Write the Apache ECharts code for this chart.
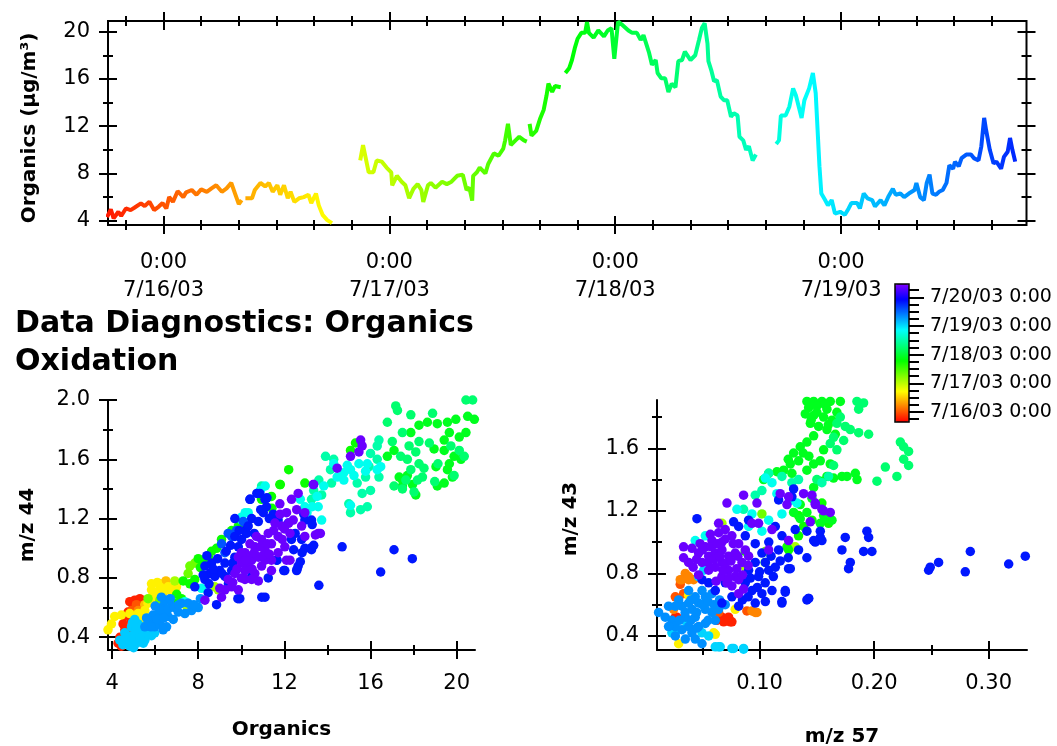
<!DOCTYPE html>
<html>
<head>
<meta charset="utf-8">
<script src="https://cdn.jsdelivr.net/npm/echarts@6/dist/echarts.min.js"></script>
<style>
  html, body { margin: 0; padding: 0; background: #fff; }
  #main { width: 1057px; height: 746px; }
</style>
</head>
<body>
<div id="main"></div>
<script>
// hours since 7/16/03 0:00 ; null = gap in the record
const tsHours = [
  -6.0, -5.6, -5.3, -4.8, -4.5, -4.0, -3.5, -3.1, -2.4, -2.0, -1.5, -1.0, -0.5, -0.1, 0.3, 0.6, 1.0, 1.5, 2.1, 2.4,
  3.0, 3.5, 4.0, 4.6, 5.1, 5.6, 6.2, 6.7, 7.2, 7.6, 8.0, 8.3, 8.5, 8.7, 9.4, 9.7, 10.3, 10.8, 11.2, 11.6,
  12.1, 12.4, 12.8, 13.2, 13.5, 13.9, 14.4, 14.9, 15.4, 15.7, 16.2, 16.5, 16.9, 17.4, 17.9, 19.0,
  20.9, 21.2, 21.8, 22.3, 22.65, 23.2, 23.7, 24.2, 24.3, 24.8, 25.3, 25.7, 26.1, 26.55, 27.0, 27.4, 27.6, 28.1,
  28.4, 28.9, 29.6, 30.1, 30.6, 31.2, 31.8, 32.2, 32.5, 32.8, 32.9, 33.3, 33.6, 34.2, 34.5, 35.1, 35.6, 36.1,
  36.3, 36.6, 36.9, 37.4, 37.8, 38.3, 38.6, 38.75,
  38.9, 39.1, 39.6, 40.0, 40.4, 40.7, 40.9, 41.3, 41.6, 42.2, 42.45,
  42.7, 43.1, 43.4, 43.7, 44.0, 44.4, 44.8, 45.0, 45.2, 45.7, 46.2, 46.8, 47.2, 47.6, 47.9, 48.3, 48.7, 49.4,
  49.8, 50.3, 50.7, 51.0, 51.6, 51.9, 52.3, 52.5, 52.9, 53.3, 53.65, 54.0, 54.4, 54.7, 55.1, 55.4, 56.0, 56.5,
  56.9, 57.2, 57.5, 57.8, 57.9, 58.2, 58.5, 58.8, 59.2, 59.55, 59.9, 60.3, 60.6, 61.0, 61.2, 61.6, 61.9, 62.2,
  62.6, 62.95, 64.0,
  65.1, 65.4, 65.6, 66.1, 66.5, 66.9, 67.2, 67.8, 68.1, 68.6, 69.0, 69.3, 69.7, 69.9, 70.3, 70.6, 71.0, 71.35,
  71.9, 72.4, 72.8, 73.1, 73.7, 74.0, 74.4, 74.8, 75.3, 75.6, 76.2, 76.6, 77.0, 77.5, 77.8, 78.3, 78.7, 79.2,
  79.8, 80.0, 80.4, 80.8, 81.1, 81.4, 81.7, 82.1, 82.4, 82.8, 83.2, 83.5, 83.9, 84.1, 84.5, 84.8, 85.3, 85.8,
  86.1, 86.6, 86.9, 87.2, 87.4, 87.8, 88.2, 88.5, 89.0, 89.3, 89.7, 89.95, 90.2, 90.5
];
const tsOrganics = [
  4.3, 4.96, 4.2, 4.76, 4.4, 5.04, 4.9, 5.1, 5.47, 5.24, 5.6, 4.9, 5.2, 5.5, 5.04, 6.0, 5.6, 6.5, 6.0, 6.4,
  6.6, 6.2, 6.65, 6.45, 6.74, 7.0, 6.45, 6.74, 7.2, 6.3, 5.4, 5.75, null, 5.9, 5.9, 6.6, 7.2, 6.9, 7.2, 6.45,
  7.0, 6.2, 7.0, 5.9, 6.45, 5.6, 5.9, 6.0, 6.2, 5.5, 6.3, 5.3, 4.5, 4.05, 3.8, null,
  9.1, 10.4, 8.1, 8.1, 9.1, 9.0, 8.5, 8.1, 7.0, 7.8, 7.3, 7.0, 5.9, 6.7, 7.1, 6.6, 5.6, 7.0,
  7.2, 6.8, 7.3, 7.1, 7.3, 7.8, 7.9, 6.6, 6.8, 5.7, 7.8, 8.1, 8.5, 8.0, 8.8, 9.7, 9.5, 10.1,
  10.8, 12.2, 10.4, 10.8, 11.1, 10.8, 10.7, null,
  12.2, 11.2, 11.6, 12.6, 13.4, 14.6, 15.6, 14.9, 15.4, 15.3, null,
  16.5, 16.9, 17.6, 18.6, 19.4, 19.9, 19.9, 20.8, 19.9, 19.5, 20.1, 19.6, 20.1, 20.3, 17.7, 20.85, 20.6, 20.1,
  19.9, 19.9, 19.3, 19.7, 18.2, 17.2, 17.6, 16.5, 16.05, 16.05, 14.9, 15.6, 15.3, 17.5, 17.6, 18.3, 17.6, 18.0,
  19.3, 20.3, 20.7, 19.0, 17.5, 16.75, 15.8, 15.9, 14.5, 14.2, 14.2, 12.8, 13.1, 12.9, 11.1, 10.8, 10.0, 10.3,
  9.1, 9.6, null,
  10.5, 10.8, 12.9, 12.9, 13.65, 15.2, 14.6, 12.7, 14.2, 15.2, 16.5, 14.8, 8.6, 6.3, 5.75, 5.3, 5.75, 4.6,
  4.76, 4.5, 5.04, 5.5, 5.5, 5.04, 6.3, 5.9, 5.75, 5.2, 5.75, 5.3, 6.0, 6.7, 6.2, 6.3, 6.0, 6.3,
  6.6, 7.2, 6.0, 5.75, 7.2, 7.9, 6.3, 6.2, 6.45, 6.6, 7.2, 8.7, 8.4, 9.0, 8.6, 9.3, 9.6, 9.6,
  9.3, 9.1, 10.3, 12.7, 11.7, 10.0, 8.85, 9.0, 8.4, 9.4, 9.84, 11.0, 10.0, 9.0
];

// [Organics, m/z 44, hours since 7/16 0:00]
const org44Pts = [
  [4.82,0.64,-5],[5.05,0.65,-5],[5.21,0.63,-5],[4.98,0.60,-5],[4.74,0.57,-5],[4.59,0.54,-5],[4.51,0.49,-5],
  [4.59,0.45,-5],[4.36,0.40,-5],[4.28,0.36,-5],[4.43,0.34,-5],[5.29,0.66,-5],[4.7,0.44,-5],[4.9,0.51,-5],
  [5.1,0.56,-5],[4.45,0.37,-5],[5.13,0.62,0],[4.9,0.58,0],
  [5.21,0.58,5],[5.44,0.56,5],
  [6.37,0.70,11],[6.68,0.73,11],[6.91,0.70,11],[5.52,0.62,11],[5.98,0.64,11],[6.2,0.76,11],[6.5,0.78,11],
  [3.74,0.41,16],[3.81,0.45,16],[3.97,0.49,16],[4.12,0.54,16],[4.43,0.55,16],[4.82,0.56,16],[5.21,0.56,16],
  [5.52,0.58,16],[5.67,0.63,16],[5.83,0.72,16],[5.83,0.76,16],[5.98,0.70,16],[6.22,0.74,16],[6.45,0.72,16],
  [6.76,0.71,16],[6.99,0.74,16],[5.36,0.52,16],[3.66,0.38,16],[6.1,0.77,16],[6.6,0.74,16],[5.9,0.67,16],
  [6.3,0.69,16],
  [7.46,0.61,26],[8.77,0.74,26],[8.93,0.72,26],[6.91,0.78,26],
  [5.67,0.66,32],[7.61,0.88,32],[7.84,0.90,32],[7.53,0.83,32],[6.22,0.65,32],
  [8.0,0.93,42],[8.23,0.92,42],[8.62,0.98,42],[8.85,1.0,42],[9.08,1.06,42],[9.55,1.12,42],[9.86,1.15,42],
  [10.94,1.33,42],[11.4,1.35,42],[11.79,1.43,42],[12.95,1.44,42],[7.3,0.78,42],[7.61,0.76,42],[7.84,0.79,42],
  [6.91,0.63,42],[7.22,0.66,42],[12.2,1.53,42],[11.81,1.43,42],[11.42,1.27,42],[15.3,1.71,42],[15.07,1.66,42],
  [7.0,0.69,42],[8.1,0.87,42],[8.5,0.93,42],
  [18.25,1.83,46],[18.64,1.85,46],[19.1,1.84,46],[19.57,1.85,46],[19.96,1.87,46],[20.51,1.89,46],[20.82,1.87,46],
  [20.9,1.78,46],[20.43,1.78,46],[20.12,1.75,46],[19.66,1.78,46],[19.42,1.73,46],[19.88,1.62,46],[20.2,1.6,46],
  [19.66,1.57,46],[19.42,1.66,46],[19.04,1.55,46],[19.57,1.53,46],[19.1,1.42,46],[19.42,1.44,46],[19.8,1.48,46],
  [17.09,1.66,46],[16.78,1.62,46],[17.33,1.48,46],[17.48,1.46,46],[17.71,1.49,46],[17.95,1.43,46],[18.1,1.36,46],
  [17.48,1.42,46],[18.95,1.67,46],[17.87,1.78,46],
  [16.78,1.85,54],[17.17,1.96,54],[17.25,1.93,54],[17.87,1.9,54],[18.88,1.91,54],[20.43,2.0,54],[20.74,2.0,54],
  [17.48,1.78,54],[17.01,1.72,54],[17.79,1.69,54],[18.1,1.65,54],[17.4,1.62,54],[17.71,1.6,54],[18.25,1.57,54],
  [18.48,1.54,54],[17.87,1.53,54],[17.64,1.46,54],[18.18,1.46,54],[18.41,1.48,54],[17.48,1.4,54],[18.02,1.38,54],
  [17.09,1.42,54],[18.98,1.45,54],[19.13,1.57,54],[18.25,1.72,54],[18.73,1.71,54],[19.73,1.69,54],[20.12,1.66,54],
  [20.35,1.62,54],[19.88,1.49,54],
  [16.31,1.69,60],[16.31,1.6,60],[16.39,1.48,60],[16.0,1.39,60],[15.85,1.28,60],[15.54,1.26,60],[15.07,1.24,60],
  [14.99,1.3,60],[15.61,1.37,60],[15.38,1.44,60],[15.77,1.48,60],[15.93,1.55,60],[16.0,1.64,60],[16.39,1.73,60],
  [14.29,1.6,60],[14.14,1.53,60],[13.91,1.62,60],[13.6,1.46,60],[13.36,1.39,60],[10.94,1.42,60],[13.26,1.33,60],
  [13.73,1.36,60],[14.19,1.44,60],
  [14.29,1.57,67],[14.45,1.48,67],[14.76,1.51,67],[15.07,1.53,67],[15.23,1.49,67],[15.46,1.57,67],[15.85,1.57,67],
  [15.77,1.52,67],[14.76,1.46,67],[14.92,1.56,67],[16.31,1.53,67],[16.47,1.55,67],[15.07,1.29,67],[13.83,1.42,67],
  [13.52,1.35,67],[13.29,1.28,67],[13.05,1.24,67],[12.74,1.33,67],[10.88,1.39,67],[11.11,1.42,67],[10.02,1.19,67],
  [10.18,1.24,67],[10.32,1.24,67],[10.01,1.21,67],[13.57,1.28,67],[13.73,1.19,67],[12.95,1.28,67],[8.15,0.73,67],
  [7.38,0.64,67],
  [4.59,0.43,74],[4.9,0.41,74],[4.59,0.36,74],[4.82,0.34,74],[5.13,0.36,74],[5.21,0.43,74],[5.36,0.47,74],
  [5.52,0.41,74],[5.67,0.45,74],[5.21,0.49,74],[5.05,0.52,74],[5.52,0.38,74],[5.83,0.41,74],[5.98,0.43,74],
  [4.9,0.47,74],[4.74,0.38,74],[4.36,0.38,74],[4.7,0.40,74],[5.0,0.39,74],[5.3,0.40,74],[5.1,0.45,74],
  [4.95,0.50,74],[5.4,0.44,74],[5.7,0.42,74],[4.5,0.35,74],[5.0,0.33,74],[5.45,0.36,74],
  [5.83,0.52,80],[6.14,0.56,80],[6.37,0.61,80],[6.45,0.65,80],[6.76,0.61,80],[7.07,0.57,80],[7.38,0.56,80],
  [7.69,0.58,80],[8.0,0.6,80],[6.6,0.54,80],[6.84,0.52,80],[6.22,0.49,80],[5.98,0.47,80],[6.53,0.47,80],
  [5.67,0.49,80],[7.22,0.63,80],[5.52,0.47,80],[6.29,0.67,80],[6.37,0.45,80],[7.53,0.63,80],[5.9,0.55,80],
  [6.3,0.58,80],[6.6,0.59,80],[6.9,0.6,80],[7.1,0.62,80],[6.1,0.52,80],[5.8,0.47,80],[6.0,0.61,80],
  [6.7,0.66,80],[7.8,0.62,80],[8.1,0.66,80],[5.6,0.53,80],[6.4,0.53,80],
  [9.08,1.03,86],[9.24,0.97,86],[9.39,1.1,86],[9.55,1.08,86],[9.78,1.12,86],[10.09,1.18,86],
  [8.31,0.88,92],[8.54,0.83,92],[8.31,0.79,92],[8.77,0.81,92],[8.62,0.9,92],[9.0,0.85,92],[9.24,0.9,92],
  [9.55,0.85,92],[9.7,0.94,92],[9.86,1.01,92],[9.7,1.08,92],[10.01,1.06,92],[10.17,1.12,92],[10.32,1.15,92],
  [10.48,1.2,92],[10.79,1.18,92],[11.02,1.24,92],[11.17,1.28,92],[10.86,1.37,92],[10.4,1.33,92],[11.1,1.33,92],
  [9.7,1.2,92],[10.24,1.1,92],[11.48,1.23,92],[11.71,1.19,92],[12.18,1.17,92],[12.33,1.06,92],[12.8,1.06,92],
  [12.95,1.0,92],[13.26,0.99,92],[12.57,0.85,92],[12.64,0.88,92],[12.02,0.85,92],[11.64,0.92,92],[11.25,0.8,92],
  [11.1,0.67,92],[9.93,0.66,92],[8.85,0.62,92],[8.46,0.7,92],[7.84,0.74,92],[8.23,0.82,92],[12.95,1.19,92],
  [13.26,1.19,92],[9.24,0.81,92],[10.48,0.81,92],[14.68,1.01,92],[17.09,0.99,92],[17.94,0.93,92],
  [16.47,0.84,92],[13.6,0.75,92],[11.97,0.85,92],[12.59,0.86,92],[10.72,1.37,92],[10.41,1.33,92],[11.19,1.34,92],
  [12.9,1.23,92],[13.29,1.16,92],[13.21,1.0,92],[13.36,1.02,92],[12.74,0.91,92],[12.82,0.97,92],[12.43,0.99,92],
  [11.66,0.92,92],[10.95,0.67,92],[9.84,0.66,92],[8.4,0.95,92],[8.9,0.93,92],[9.3,0.98,92],[9.5,1.02,92],
  [8.7,0.86,92],[9.1,0.83,92],[9.4,0.76,92],[8.5,0.76,92],[9.9,1.12,92],[10.6,1.1,92],[11.3,1.2,92],
  [10.9,1.26,92],[12.5,1.1,92],[9.6,0.9,92],
  [9.86,0.94,105],[10.17,0.97,105],[10.48,0.92,105],[10.79,0.94,105],[11.1,0.99,105],[11.4,1.03,105],
  [11.71,1.08,105],[11.87,1.15,105],[11.56,1.17,105],[11.25,1.1,105],[10.94,1.06,105],[10.63,1.01,105],
  [10.32,0.88,105],[10.01,0.9,105],[9.7,0.83,105],[9.39,0.79,105],[9.55,0.74,105],[9.24,0.72,105],
  [10.17,0.79,105],[10.63,0.83,105],[10.94,0.88,105],[11.4,0.92,105],[11.71,0.97,105],[12.02,1.01,105],
  [12.26,1.1,105],[12.41,1.19,105],[12.57,1.26,105],[12.33,1.33,105],[12.64,1.37,105],[12.95,1.24,105],
  [12.8,1.15,105],[12.1,1.24,105],[11.79,1.3,105],[13.57,1.1,105],[12.95,1.08,105],[12.1,0.92,105],
  [12.26,0.92,105],[13.34,1.43,105],[11.4,0.85,105],[10.48,0.79,105],[10.79,0.78,105],[8.31,0.65,105],
  [9.86,0.72,105],[9.08,0.67,105],[10.17,0.85,105],[11.1,0.92,105],[15.54,1.73,105],[15.61,1.69,105],
  [15.46,1.65,105],[15.07,1.62,105],[14.45,1.54,105],[13.36,1.43,105],[13.67,1.1,105],[13.44,1.09,105],
  [10.0,0.97,105],[10.3,0.95,105],[10.6,0.97,105],[10.9,1.01,105],[11.2,1.03,105],[10.4,1.03,105],
  [10.7,1.08,105],[11.5,1.12,105],[11.0,0.95,105],[10.2,0.92,105],[9.8,0.86,105],[10.5,0.86,105],
  [11.3,0.96,105],[11.9,1.06,105],[12.2,1.17,105],[9.6,0.77,105],[9.0,0.73,105],[10.0,0.80,105],
  [11.8,1.23,105],[12.0,1.13,105]
];

// [m/z 57, m/z 43, hours since 7/16 0:00]
const mz57Pts = [
  [0.0264,0.52,-5],[0.0671,0.52,-5],[0.0715,0.50,-5],[0.0744,0.49,-5],[0.0278,0.52,-5],[0.0627,0.50,-5],
  [0.0686,0.49,-5],[0.0758,0.49,-5],[0.0729,0.52,-5],
  [0.0307,0.73,0],[0.0642,0.55,0],[0.0264,0.65,0],[0.0336,0.67,0],[0.0889,0.56,0],
  [0.0322,0.76,5],[0.0351,0.80,5],[0.0380,0.76,5],[0.0933,0.56,5],[0.0962,0.55,5],[0.0249,0.57,5],
  [0.0307,0.76,5],[0.038,0.78,5],[0.0424,0.76,5],[0.0977,0.55,5],
  [0.0599,0.42,16],[0.0613,0.41,16],[0.0293,0.35,16],[0.0787,0.57,16],[0.038,0.66,16],
  [0.1311,0.97,26],[0.0875,0.84,26],[0.0671,1.12,26],[0.102,1.18,32],[0.1049,0.94,32],
  [0.134,1.17,42],[0.1384,1.10,42],[0.1457,1.14,42],[0.134,1.04,42],[0.1253,0.95,42],[0.1573,1.15,42],
  [0.1602,1.12,42],[0.1544,1.25,42],[0.0875,0.94,42],[0.1049,0.87,42],[0.1239,0.97,42],
  [0.1413,1.90,46],[0.1472,1.90,46],[0.1544,1.90,46],[0.1617,1.90,46],[0.1705,1.90,46],[0.1428,1.86,46],
  [0.15,1.87,46],[0.1588,1.85,46],[0.1675,1.83,46],[0.1399,1.82,46],[0.1472,1.81,46],[0.1559,1.80,46],
  [0.1632,1.78,46],[0.1443,1.76,46],[0.1515,1.74,46],[0.1588,1.72,46],[0.1661,1.69,46],[0.1472,1.68,46],
  [0.1413,1.64,46],[0.1355,1.61,46],[0.1297,1.57,46],[0.1341,1.52,46],[0.1268,1.50,46],[0.121,1.46,46],
  [0.1151,1.45,46],[0.1079,1.44,46],[0.1282,1.44,46],[0.1413,1.46,46],[0.1472,1.50,46],[0.153,1.52,46],
  [0.1588,1.42,46],[0.1646,1.41,46],[0.1719,1.42,46],[0.1763,1.42,46],[0.1836,1.44,46],[0.1851,1.40,46],
  [0.1559,1.59,46],[0.1617,1.50,46],[0.153,1.39,46],[0.1472,1.35,46],[0.1457,1.28,46],[0.1355,1.24,46],
  [0.1413,1.19,46],[0.1632,1.14,46],[0.1588,1.15,46],[0.1559,1.17,46],[0.153,1.12,46],[0.1297,1.19,46],
  [0.1355,1.15,46],[0.1035,1.40,46],[0.15,1.83,46],[0.157,1.88,46],[0.145,1.78,46],[0.16,1.75,46],
  [0.138,1.57,46],[0.125,1.53,46],[0.143,1.55,46],
  [0.185,1.90,54],[0.1908,1.89,54],[0.1865,1.85,54],[0.1675,1.76,54],[0.1748,1.74,54],[0.1792,1.72,54],
  [0.1865,1.70,54],[0.1952,1.69,54],[0.2229,1.64,54],[0.2258,1.61,54],[0.2301,1.58,54],[0.2258,1.53,54],
  [0.2301,1.49,54],[0.2199,1.42,54],[0.2098,1.48,54],[0.2025,1.39,54],[0.1646,1.49,54],[0.1734,1.65,54],
  [0.1646,1.67,54],[0.1617,1.63,54],[0.1675,1.59,54],[0.15,1.40,54],[0.1705,1.80,54],
  [0.1079,1.44,60],[0.1195,1.42,60],[0.0962,1.30,60],[0.102,1.33,60],[0.1282,1.38,60],[0.134,1.40,60],
  [0.1544,1.38,60],[0.1602,1.42,60],[0.086,1.21,60],
  [0.105,1.41,67],[0.1108,1.38,67],[0.1151,1.31,67],[0.128,1.27,67],[0.1326,1.25,67],[0.1195,1.18,67],
  [0.1079,1.14,67],[0.0802,1.21,67],[0.0933,1.18,67],[0.102,1.07,67],[0.0526,1.04,67],[0.0438,1.01,67],
  [0.0904,1.10,67],
  [0.0642,0.33,73],[0.0758,0.32,73],[0.086,0.32,73],[0.0293,0.44,73],[0.0234,0.42,73],[0.0365,0.48,73],
  [0.0497,0.42,73],[0.0555,0.40,73],[0.0511,0.82,73],[0.0467,0.78,73],[0.0613,0.33,73],[0.0656,0.33,73],
  [0.0773,0.32,73],[0.086,0.315,73],
  [0.0118,0.55,80],[0.0176,0.52,80],[0.0234,0.50,80],[0.0264,0.46,80],[0.0322,0.44,80],[0.038,0.46,80],
  [0.0351,0.52,80],[0.0409,0.57,80],[0.0467,0.61,80],[0.0526,0.65,80],[0.0584,0.67,80],[0.0438,0.65,80],
  [0.0497,0.69,80],[0.038,0.61,80],[0.0322,0.59,80],[0.0293,0.63,80],[0.0438,0.52,80],[0.0526,0.57,80],
  [0.0584,0.55,80],[0.0642,0.57,80],[0.0526,0.48,80],[0.0467,0.46,80],[0.0409,0.42,80],[0.0351,0.38,80],
  [0.0438,0.38,80],[0.0497,0.35,80],[0.0264,0.40,80],[0.0205,0.46,80],[0.038,0.69,80],[0.0264,0.59,80],
  [0.0205,0.59,80],[0.0613,0.50,80],[0.035,0.55,80],[0.04,0.5,80],[0.045,0.55,80],[0.05,0.6,80],
  [0.055,0.62,80],[0.03,0.5,80],[0.045,0.45,80],[0.06,0.6,80],[0.04,0.63,80],[0.055,0.5,80],
  [0.065,0.63,80],[0.07,0.6,80],
  [0.0453,1.15,92],[0.0817,1.10,92],[0.0875,1.04,92],[0.0962,0.99,92],[0.102,0.93,92],[0.0962,0.87,92],
  [0.0904,0.82,92],[0.0991,0.78,92],[0.1049,0.74,92],[0.0875,0.74,92],[0.0933,0.69,92],[0.102,0.67,92],
  [0.1108,0.69,92],[0.1079,0.82,92],[0.1166,0.95,92],[0.1195,1.04,92],[0.1137,1.10,92],[0.1311,1.08,92],
  [0.1413,0.90,92],[0.134,0.95,92],[0.1253,0.83,92],[0.1224,0.69,92],[0.1428,0.64,92],[0.1195,0.61,92],
  [0.0962,0.61,92],[0.0817,0.59,92],[0.0671,0.61,92],[0.0758,0.65,92],[0.0613,0.69,92],[0.0555,0.74,92],
  [0.0497,0.76,92],[0.07,0.74,92],[0.0904,1.14,92],[0.0773,1.13,92],[0.153,1.07,92],[0.1486,1.0,92],
  [0.1544,1.01,92],[0.1166,1.27,92],[0.1282,1.29,92],[0.1137,0.84,92],[0.1748,1.03,92],[0.1719,0.95,92],
  [0.1792,0.87,92],[0.1777,0.83,92],[0.1937,1.07,92],[0.1952,1.03,92],[0.1908,0.94,92],[0.1981,0.94,92],
  [0.2476,0.82,92],[0.249,0.84,92],[0.2563,0.87,92],[0.2796,0.81,92],[0.284,0.94,92],[0.3175,0.86,92],
  [0.332,0.91,92],[0.1413,0.63,92],[0.1428,0.64,92],[0.1224,0.68,92],[0.1195,0.62,92],[0.1268,0.83,92],
  [0.153,1.03,92],[0.1472,1.01,92],[0.1413,1.07,92],[0.1297,1.34,92],[0.085,0.63,92],[0.092,0.77,92],
  [0.1,0.81,92],[0.105,0.87,92],[0.11,0.91,92],[0.098,0.71,92],[0.112,0.78,92],[0.105,0.62,92],
  [0.118,0.88,92],[0.125,0.9,92],[0.108,1.0,92],[0.09,0.65,92],
  [0.0526,0.97,105],[0.0584,1.01,105],[0.0642,1.06,105],[0.07,1.08,105],[0.0758,1.04,105],[0.0817,0.99,105],
  [0.0875,0.95,105],[0.0555,0.91,105],[0.0613,0.93,105],[0.0671,0.95,105],[0.0729,0.91,105],[0.0787,0.93,105],
  [0.0846,0.87,105],[0.0497,0.87,105],[0.0555,0.82,105],[0.0613,0.84,105],[0.0671,0.87,105],[0.0729,0.82,105],
  [0.0787,0.78,105],[0.0671,0.78,105],[0.0758,0.72,105],[0.0817,0.67,105],[0.0715,0.74,105],[0.0467,0.93,105],
  [0.0409,0.96,105],[0.0336,0.90,105],[0.038,0.87,105],[0.0336,0.97,105],[0.0642,1.12,105],[0.0715,1.25,105],
  [0.086,1.30,105],[0.0671,1.0,105],[0.0933,1.12,105],[0.0991,1.12,105],[0.1079,0.95,105],[0.1108,1.08,105],
  [0.1253,1.29,105],[0.1384,1.31,105],[0.1486,1.25,105],[0.1544,1.21,105],[0.1442,1.13,105],[0.1253,1.01,105],
  [0.0977,1.25,105],[0.0904,0.91,105],[0.0467,0.79,105],[0.0817,0.76,105],[0.1457,1.30,105],[0.1239,1.24,105],
  [0.118,1.31,105],[0.1617,1.19,105],[0.1559,1.20,105],[0.1486,1.24,105],[0.055,0.87,105],[0.06,0.89,105],
  [0.065,0.91,105],[0.07,0.86,105],[0.075,0.88,105],[0.08,0.83,105],[0.058,0.97,105],[0.063,0.99,105],
  [0.07,1.02,105],[0.045,0.89,105],[0.05,0.95,105],[0.077,0.99,105],[0.068,0.82,105],[0.073,0.77,105],
  [0.062,0.75,105],[0.085,0.79,105],[0.09,0.85,105],[0.042,0.84,105],[0.048,0.99,105],[0.057,1.05,105],
  [0.081,0.91,105],[0.086,0.70,105]
];

const dayTicks = [0, 24, 48, 72];
const hourMinor = [-4, 4, 8, 12, 16, 20, 28, 32, 36, 40, 44, 52, 56, 60, 64, 68, 76, 80, 84, 88];
const orgMajor = [4, 8, 12, 16, 20];
const orgMinor = [6, 10, 14, 18];
const ratioMajor = [0.4, 0.8, 1.2, 1.6, 2.0];
const ratioMinor = [0.6, 1.0, 1.4, 1.8];
const mz57Major = [0.1, 0.2, 0.3];
const mz57Minor = [0.05, 0.15, 0.25];
const barDays = [0, 24, 48, 72, 96];
const barMinor = [-6, 6, 12, 18, 30, 36, 42, 54, 60, 66, 78, 84, 90, 102];

// colour scale limits (hours) and rainbow red -> violet
const CMIN = -8.4, CMAX = 107.2;
const RAINBOW = ['#ff0000', '#ff8000', '#ffff00', '#80ff00', '#00ff00', '#00ff80',
                 '#00ffff', '#0080ff', '#0000ff', '#8000ff'];

const FONT = 'DejaVu Sans';
const dayStr = h => '7/' + (16 + Math.round(h / 24)) + '/03';

const xAxes = [], yAxes = [];

// one labelled axis plus two tick-only axes so ticks cross the axis line
function addAxis(list, grid, s) {
  const base = {
    type: 'value', gridIndex: grid, position: s.pos, min: s.min, max: s.max,
    splitLine: { show: false }, axisLine: { show: false, onZero: false }
  };
  const idx = list.length;
  list.push(Object.assign({}, base, {
    axisLine: { show: !!s.line, onZero: false, lineStyle: { color: '#000', width: 2 } },
    axisTick: { show: false },
    axisLabel: s.fmt ? {
      customValues: s.majors, formatter: s.fmt, margin: s.margin, color: '#000',
      fontSize: s.fontSize || 21, fontFamily: FONT, lineHeight: s.lineHeight || 23
    } : { show: false },
    name: s.name || '', nameLocation: 'middle', nameGap: s.nameGap || 0,
    nameTextStyle: { color: '#000', fontFamily: FONT, fontWeight: 'bold', fontSize: 20, padding: s.namePad || 0 }
  }));
  const sets = [[s.majors, s.majorLen || 9], [s.minors, s.minorLen || 5]];
  sets.forEach(([vals, len]) => {
    list.push(Object.assign({}, base, {
      offset: s.outside ? 0 : -len,
      axisLabel: { show: false },
      axisTick: { show: true, customValues: vals, length: s.outside ? len : len * 2,
                  lineStyle: { color: '#000', width: 2 } }
    }));
  });
  return idx;
}

// top: time series
const tsX = addAxis(xAxes, 0, { pos: 'bottom', min: -5.9, max: 91.7, majors: dayTicks, minors: hourMinor,
  fmt: h => '0:00\n' + dayStr(h), margin: 24, lineHeight: 28 });
addAxis(xAxes, 0, { pos: 'top', min: -5.9, max: 91.7, majors: dayTicks, minors: hourMinor });
const tsY = addAxis(yAxes, 0, { pos: 'left', min: 3.64, max: 20.9, majors: orgMajor, minors: orgMinor,
  fmt: v => String(v), margin: 18, name: 'Organics (µg/m³)', nameGap: 68, namePad: [0, 10, 0, 0] });
addAxis(yAxes, 0, { pos: 'right', min: 3.64, max: 20.9, majors: orgMajor, minors: orgMinor });

// bottom left: Organics vs m/z 44
const aX = addAxis(xAxes, 1, { pos: 'bottom', min: 3.81, max: 20.85, majors: orgMajor, minors: orgMinor, line: true,
  fmt: v => String(v), margin: 22, name: 'Organics', nameGap: 70, namePad: [0, 20, 0, 0] });
const aY = addAxis(yAxes, 1, { pos: 'left', min: 0.314, max: 2.0, majors: ratioMajor, minors: ratioMinor, line: true,
  fmt: v => v.toFixed(1), margin: 18, name: 'm/z 44', nameGap: 70 });

// bottom right: m/z 57 vs m/z 43
const bX = addAxis(xAxes, 2, { pos: 'bottom', min: 0.0104, max: 0.3335, majors: mz57Major, minors: mz57Minor, line: true,
  fmt: v => v.toFixed(2), margin: 22, name: 'm/z 57', nameGap: 77 });
const bY = addAxis(yAxes, 2, { pos: 'left', min: 0.31, max: 1.909, majors: ratioMajor.slice(0, 4), minors: ratioMinor,
  line: true, fmt: v => v.toFixed(1), margin: 18, name: 'm/z 43', nameGap: 76, namePad: [0, 0, 0, 12] });

// colour bar axis
xAxes.push({ type: 'value', gridIndex: 3, show: false, min: 0, max: 1 });
addAxis(yAxes, 3, { pos: 'right', min: CMIN, max: CMAX, majors: barDays, minors: barMinor, outside: true,
  majorLen: 15, minorLen: 10, fmt: h => dayStr(h) + ' 0:00', margin: 21, fontSize: 19 });

const byTime = pts => pts.slice().sort((a, b) => a[2] - b[2]);

const option = {
  animation: false,
  backgroundColor: '#fff',
  textStyle: { fontFamily: FONT },
  title: {
    text: 'Data Diagnostics: Organics\nOxidation',
    left: 15, top: 305, padding: 0,
    textStyle: { fontFamily: FONT, fontWeight: 'bold', fontSize: 30, lineHeight: 38, color: '#000' }
  },
  grid: [
    { left: 108, top: 21, width: 918.5, height: 204, show: true, borderColor: '#000', borderWidth: 2, outerBoundsMode: 'none' },
    { left: 108, top: 400, width: 367, height: 250, outerBoundsMode: 'none' },
    { left: 657, top: 400, width: 370, height: 250, outerBoundsMode: 'none' },
    { left: 895, top: 284, width: 14, height: 138, show: true, borderColor: '#000', borderWidth: 1.5, z: 10, outerBoundsMode: 'none' }
  ],
  xAxis: xAxes,
  yAxis: yAxes,
  visualMap: [
    { type: 'continuous', show: false, seriesIndex: 0, dimension: 0, min: CMIN, max: CMAX,
      inRange: { color: RAINBOW } },
    { type: 'continuous', show: true, seriesIndex: [1, 2], dimension: 2, min: CMIN, max: CMAX,
      inRange: { color: RAINBOW }, left: 895, top: 284, itemWidth: 14, itemHeight: 138,
      padding: 0, text: null, calculable: false, hoverLink: false, realtime: false }
  ],
  series: [
    {
      type: 'line', xAxisIndex: tsX, yAxisIndex: tsY, showSymbol: false, connectNulls: false,
      lineStyle: { width: 4 },
      data: tsHours.map((h, i) => [h, tsOrganics[i] == null ? '-' : tsOrganics[i]])
    },
    {
      type: 'scatter', xAxisIndex: aX, yAxisIndex: aY, symbolSize: 9.5,
      itemStyle: { opacity: 1 }, data: byTime(org44Pts)
    },
    {
      type: 'scatter', xAxisIndex: bX, yAxisIndex: bY, symbolSize: 9.5,
      itemStyle: { opacity: 1 }, data: byTime(mz57Pts)
    }
  ]
};

const chart = echarts.init(document.getElementById('main'), null, { renderer: 'canvas' });
chart.setOption(option);
</script>
</body>
</html>
